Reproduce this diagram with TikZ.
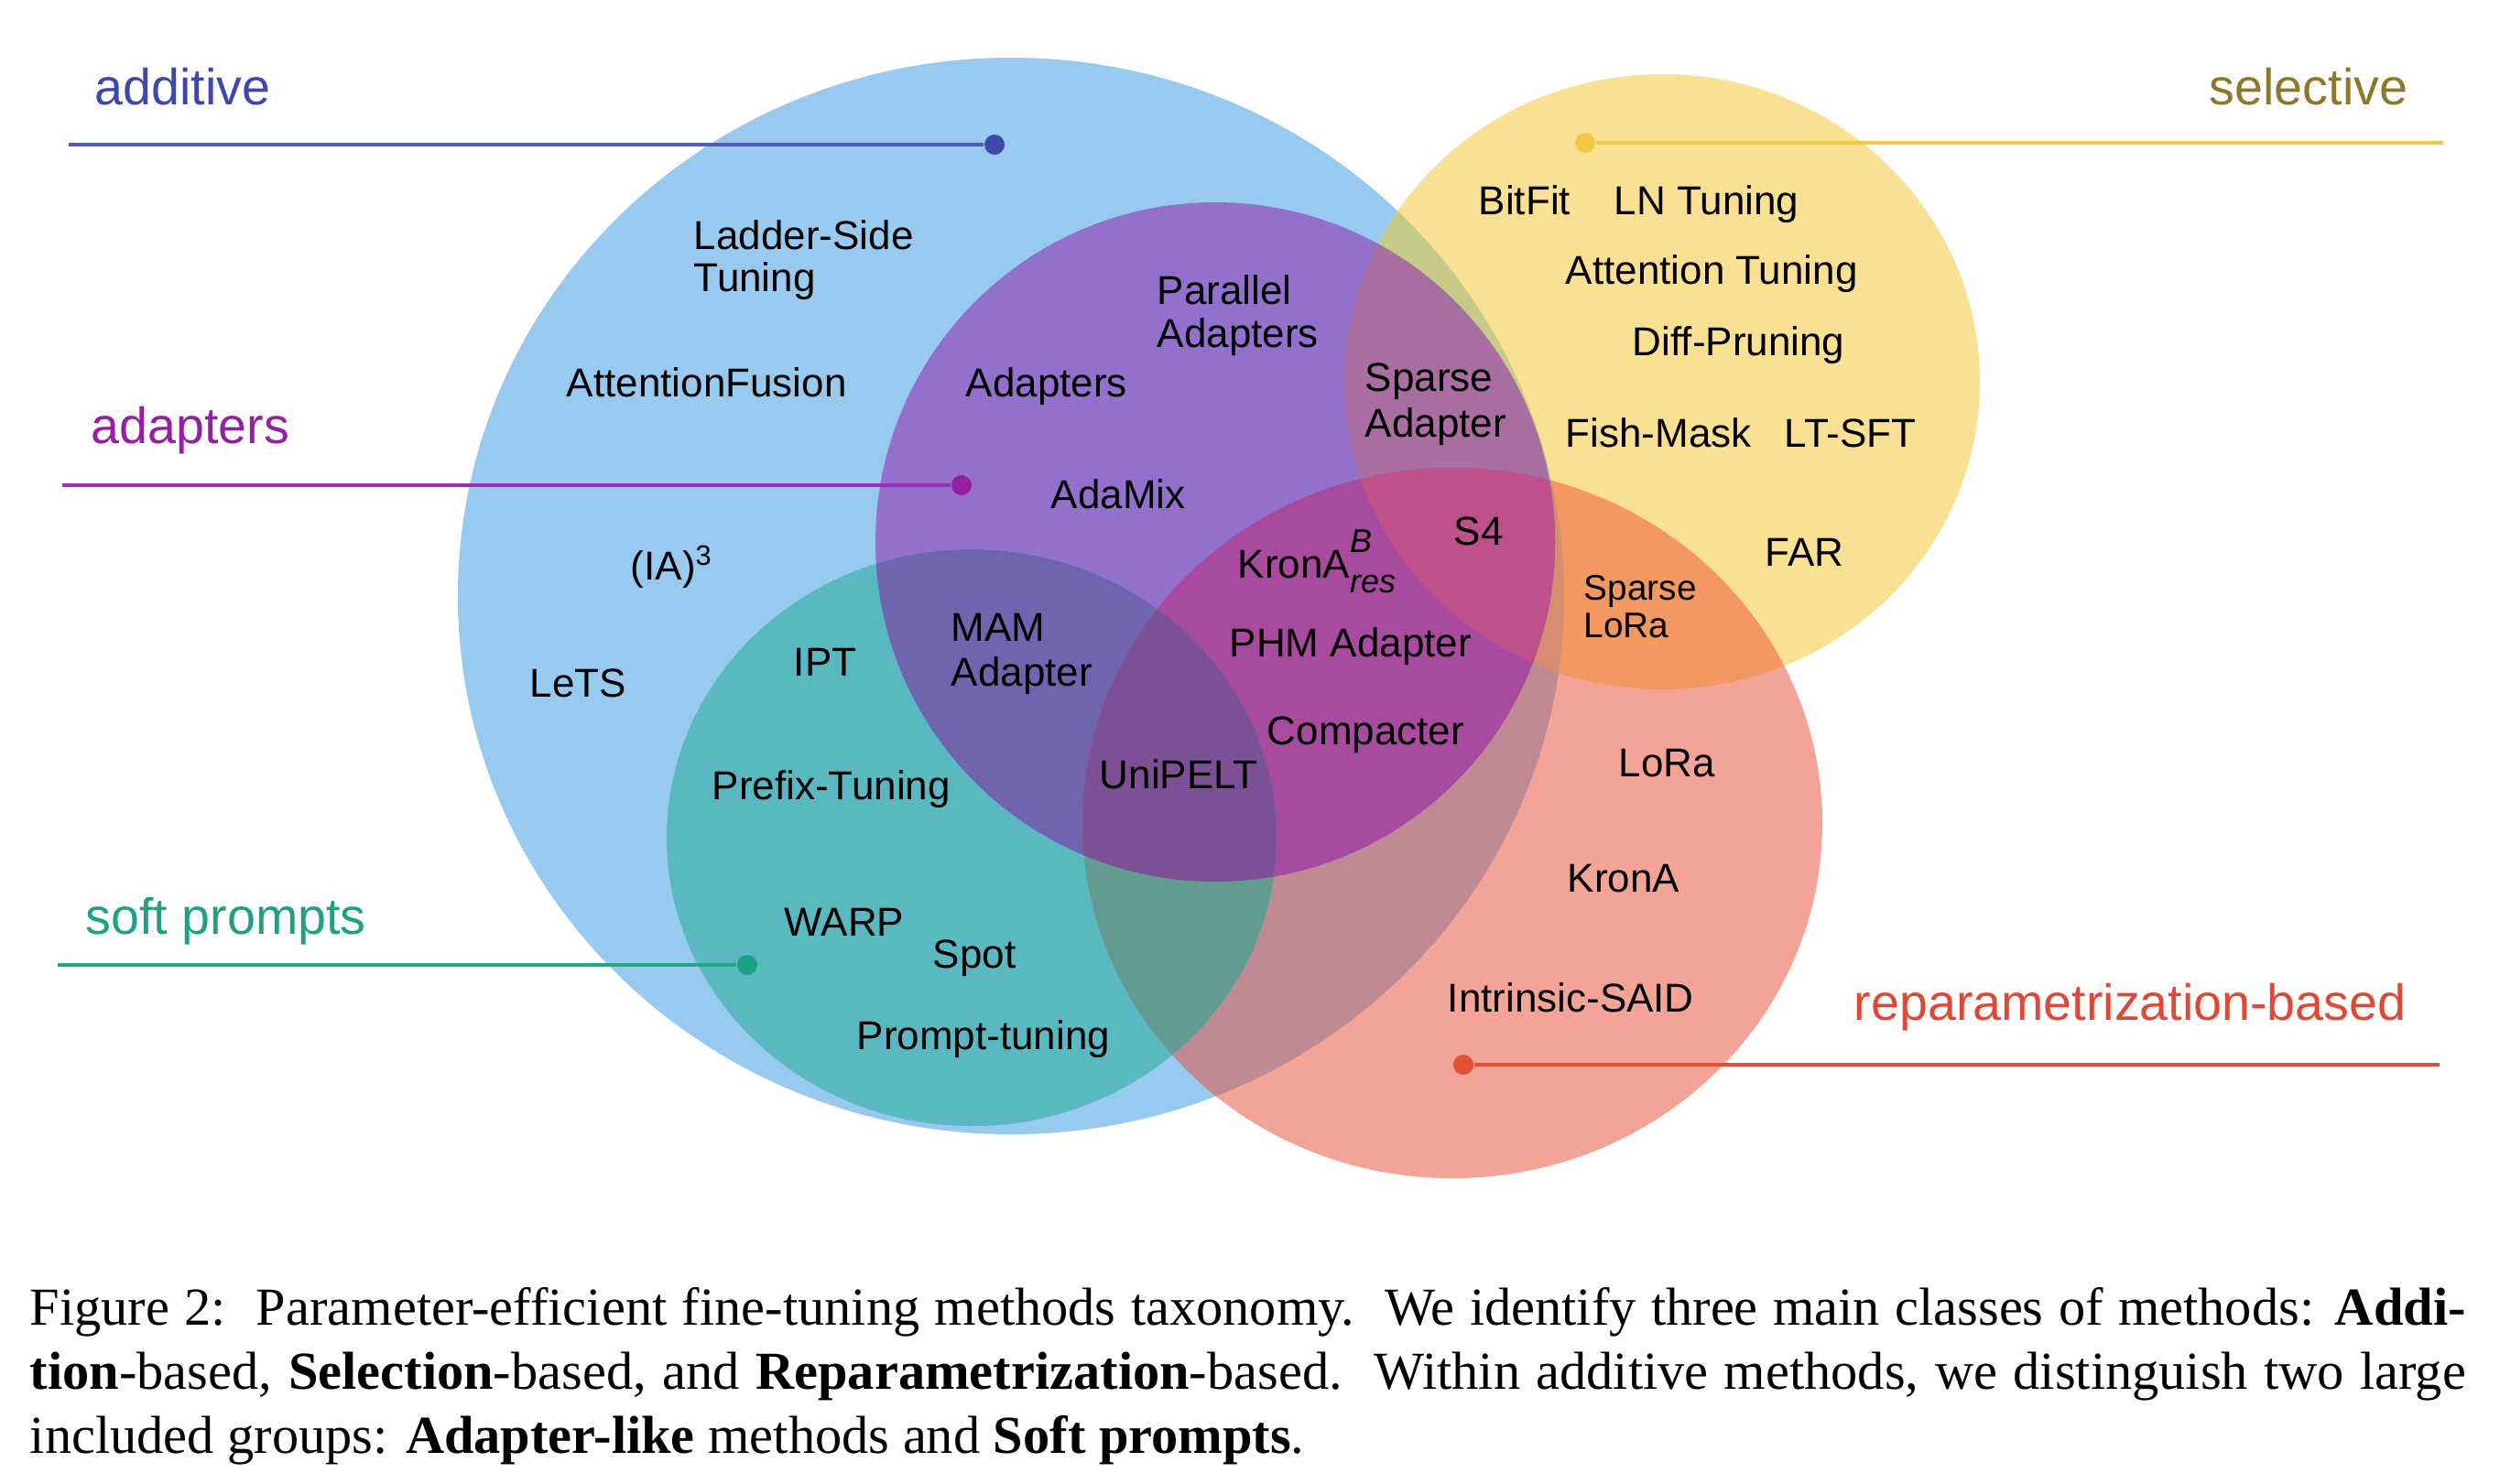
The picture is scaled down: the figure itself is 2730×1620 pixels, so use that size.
\documentclass[tikz,border=0pt]{standalone}
\usepackage{fontspec}
\setmainfont{Liberation Sans}
\newfontfamily\capfont{Liberation Serif}
\definecolor{cB}{RGB}{152,202,240}
\definecolor{cY}{RGB}{250,224,146}
\definecolor{cR}{RGB}{244,164,150}
\definecolor{cBY}{RGB}{198,203,138}
\definecolor{cBR}{RGB}{192,138,146}
\definecolor{cRY}{RGB}{243,152,96}
\definecolor{cBRY}{RGB}{214,140,110}
\definecolor{cP}{RGB}{148,112,205}
\definecolor{cT}{RGB}{90,184,192}
\definecolor{cPT}{RGB}{112,100,175}
\definecolor{cPY}{RGB}{168,110,160}
\definecolor{cPR}{RGB}{168,74,158}
\definecolor{cTR}{RGB}{100,155,145}
\definecolor{cPTR}{RGB}{124,80,148}
\definecolor{cPYR}{RGB}{190,80,140}
\definecolor{tAdd}{RGB}{62,72,170}
\definecolor{lAdd}{RGB}{80,90,185}
\definecolor{tAdp}{RGB}{150,30,165}
\definecolor{lAdp}{RGB}{160,45,185}
\definecolor{tSoft}{RGB}{32,160,130}
\definecolor{lSoft}{RGB}{40,165,135}
\definecolor{tSel}{RGB}{140,120,40}
\definecolor{lSel}{RGB}{240,200,70}
\definecolor{tRep}{RGB}{222,72,52}
\definecolor{lRep}{RGB}{228,80,55}
\def\pathB{(1104,651) ellipse [x radius=604, y radius=588]}
\def\pathP{(1327,592) circle [radius=371]}
\def\pathT{(1061,915) ellipse [x radius=333, y radius=315]}
\def\pathY{(1815,417) ellipse [x radius=347, y radius=336]}
\def\pathR{(1586,899) ellipse [x radius=404, y radius=388]}
\begin{document}
\begin{tikzpicture}[x=0.25pt,y=-0.25pt,
  meth/.style={font=\fontsize{11}{13}\selectfont, text=black, inner sep=0pt, anchor=base west},
  smallmeth/.style={font=\fontsize{9.7}{11}\selectfont, text=black, inner sep=0pt, anchor=base west},
  grp/.style={font=\fontsize{13.9}{16}\selectfont, inner sep=0pt, anchor=base west},
  captext/.style={font=\capfont\fontsize{14.6}{17.5}\selectfont, inner sep=0pt, anchor=base west},
  lead/.style={line width=0.9pt},
  dotn/.style={circle, inner sep=0pt, minimum size=5.5pt}]
\useasboundingbox (0,0) rectangle (2730,1620);
\fill[white] (0,0) rectangle (2730,1620);
% base sets
\fill[cB] \pathB;
\fill[cY] \pathY;
\fill[cR] \pathR;
\begin{scope}\clip \pathB; \fill[cBY] \pathY; \fill[cBR] \pathR; \end{scope}
\begin{scope}\clip \pathR; \fill[cRY] \pathY; \end{scope}
\begin{scope}\clip \pathB; \clip \pathR; \fill[cBRY] \pathY; \end{scope}
\fill[cP] \pathP;
\fill[cT] \pathT;
\begin{scope}\clip \pathP; \fill[cPT] \pathT; \fill[cPY] \pathY; \fill[cPR] \pathR; \end{scope}
\begin{scope}\clip \pathT; \fill[cTR] \pathR; \end{scope}
\begin{scope}\clip \pathP; \clip \pathT; \fill[cPTR] \pathR; \end{scope}
\begin{scope}\clip \pathP; \clip \pathY; \fill[cPYR] \pathR; \end{scope}
% group labels and leaders
\node[grp, text=tAdd] (ladd) at (103,114) {additive};
\coordinate (addL) at (75,158);
\node[dotn, fill=tAdd] (addD) at (1086,158) {};
\draw[lead, lAdd] (addL) -- (addD);
\node[grp, text=tAdp] (ladp) at (99,484) {adapters};
\coordinate (adpL) at (68,530);
\node[dotn, fill=tAdp] (adpD) at (1050,530) {};
\draw[lead, lAdp] (adpL) -- (adpD);
\node[grp, text=tSoft] (lsoft) at (93,1020) {soft prompts};
\coordinate (softL) at (63,1054);
\node[dotn, fill=tSoft] (softD) at (816,1054) {};
\draw[lead, lSoft] (softL) -- (softD);
\node[grp, text=tSel] (lsel) at (2412,114) {selective};
\coordinate (selR) at (2668,156);
\node[dotn, fill=lSel] (selD) at (1731,156) {};
\draw[lead, lSel] (selD) -- (selR);
\node[grp, text=tRep] (lrep) at (2024,1114) {reparametrization-based};
\coordinate (repR) at (2664,1163);
\node[dotn, fill=lRep] (repD) at (1598,1163) {};
\draw[lead, lRep] (repD) -- (repR);
% methods
\node[meth] (lst1) at (757,272) {Ladder-Side};
\node[meth] (lst2) at (757,318) {Tuning};
\node[meth] (af) at (618,433) {AttentionFusion};
\node[meth] (ia3) at (688,633) {(IA)\textsuperscript{3}};
\node[meth] (lets) at (578,761) {LeTS};
\node[meth] (ada) at (1054,433) {Adapters};
\node[meth] (pa1) at (1263,332) {Parallel};
\node[meth] (pa2) at (1263,379) {Adapters};
\node[meth] (adamix) at (1147,555) {AdaMix};
\node[meth] (ipt) at (866,738) {IPT};
\node[meth] (mam1) at (1038,700) {MAM};
\node[meth] (mam2) at (1038,749) {Adapter};
\node[meth] (prefix) at (777,873) {Prefix-Tuning};
\node[meth] (unipelt) at (1200,861) {UniPELT};
\node[meth] (warp) at (856,1022) {WARP};
\node[meth] (spot) at (1018,1057) {Spot};
\node[meth] (prompt) at (935,1146) {Prompt-tuning};
\node[meth] (bitfit) at (1614,234) {BitFit};
\node[meth] (ln) at (1762,234) {LN Tuning};
\node[meth] (att) at (1709,310) {Attention Tuning};
\node[meth] (diff) at (1782,388) {Diff-Pruning};
\node[meth] (sa1) at (1490,427) {Sparse};
\node[meth] (sa2) at (1490,477) {Adapter};
\node[meth] (fish) at (1709,488) {Fish-Mask};
\node[meth] (ltsft) at (1948,488) {LT-SFT};
\node[meth] (s4) at (1587,595) {S4};
\node[meth] (far) at (1927,618) {FAR};
\node[meth] (krona) at (1351,631) {KronA\rlap{\raisebox{0.62em}{\fontsize{9}{10}\selectfont\itshape B}}\raisebox{-0.38em}{\fontsize{9}{10}\selectfont\itshape res}};
\node[smallmeth] (sl1) at (1729,655) {Sparse};
\node[smallmeth] (sl2) at (1729,696) {LoRa};
\node[meth] (phm) at (1342,717) {PHM Adapter};
\node[meth] (compacter) at (1383,813) {Compacter};
\node[meth] (lora) at (1767,848) {LoRa};
\node[meth] (kronaa) at (1711,974) {KronA};
\node[meth] (said) at (1580,1105) {Intrinsic-SAID};
% caption
\node[captext] (cap1) at (32,1447) {\makebox[665pt][s]{Figure 2:\ \ Parameter-efficient fine-tuning methods taxonomy.\ \ We identify three main classes of methods: \textbf{Addi-}}};
\node[captext] (cap2) at (32,1517) {\makebox[665pt][s]{\textbf{tion}-based, \textbf{Selection}-based, and \textbf{Reparametrization}-based.\ \ Within additive methods, we distinguish two large}};
\node[captext] (cap3) at (32,1587) {included groups: \textbf{Adapter-like} methods and \textbf{Soft prompts}.};
\end{tikzpicture}
\end{document}
